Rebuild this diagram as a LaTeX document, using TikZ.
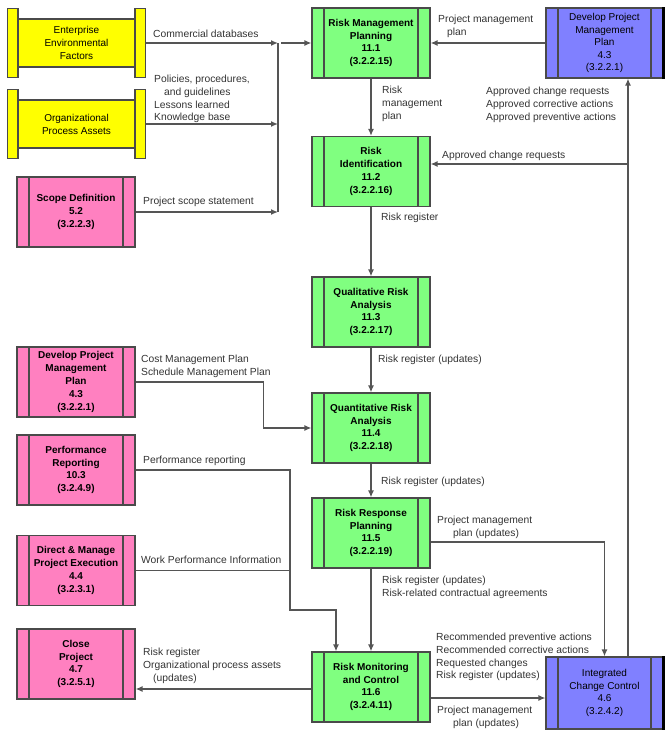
\documentclass[tikz,border=0pt]{standalone}
\usepackage{fontspec}
\setmainfont{Liberation Sans}
\usetikzlibrary{arrows.meta}

\definecolor{procgreen}{HTML}{80FF80}
\definecolor{extpink}{HTML}{FF80C0}
\definecolor{intblue}{HTML}{8080FF}
\definecolor{envyellow}{HTML}{FFFF00}
\definecolor{edgegray}{HTML}{4A4A4A}
\definecolor{flowgray}{HTML}{555555}
\definecolor{labelgray}{HTML}{333333}

\begin{document}
\begin{tikzpicture}[
  x=1pt, y=-1pt,
  barbox/.style={draw=edgegray, line width=1.2pt, minimum width=118pt,
    minimum height=70pt, inner sep=1pt, align=center,
    font=\fontsize{10}{12.8}\selectfont\bfseries,
    path picture={
      \draw[edgegray, line width=1.2pt]
        ([xshift=12pt]path picture bounding box.north west) -- ([xshift=12pt]path picture bounding box.south west)
        ([xshift=-12pt]path picture bounding box.north east) -- ([xshift=-12pt]path picture bounding box.south east);
    }},
  process/.style={barbox, fill=procgreen},
  outside/.style={barbox, fill=extpink},
  integ/.style={barbox, fill=intblue, minimum width=117pt,
    font=\fontsize{10}{12.5}\selectfont,
    append after command={(\tikzlastnode.north east) edge[draw=black, line width=2.4pt] (\tikzlastnode.south east)}},
  scroll/.style={minimum width=139pt, minimum height=70pt, inner sep=1pt,
    align=center, font=\fontsize{10}{13}\selectfont,
    path picture={
      \filldraw[fill=envyellow, draw=edgegray, line width=1.2pt]
        ([shift={(11pt,-11pt)}]path picture bounding box.north west) rectangle ([shift={(-11pt,11pt)}]path picture bounding box.south east)
        ([shift={(0.6pt,-0.6pt)}]path picture bounding box.north west) rectangle ([shift={(11pt,0.6pt)}]path picture bounding box.south west)
        ([shift={(-11pt,-0.6pt)}]path picture bounding box.north east) rectangle ([shift={(-0.6pt,0.6pt)}]path picture bounding box.south east);
    }},
  flow/.style={draw=flowgray, line width=1.3pt},
  arr/.style={flow, -{Latex[length=7pt,width=6pt]}},
  lbl/.style={anchor=north west, inner sep=0pt, align=left, text=labelgray,
    font=\fontsize{10.3}{12.7}\selectfont}
]
\useasboundingbox (0,0) rectangle (670,737);

% inputs on the left
\node[scroll] (eef) at (76.5,43) {Enterprise\\Environmental\\Factors};
\node[scroll] (opa) at (76.5,124) {Organizational\\Process Assets};
\node[outside] (scope) at (76,212) {Scope Definition\\5.2\\(3.2.2.3)};
\node[outside] (dpmp) at (76,382) {Develop Project\\Management\\Plan\\4.3\\(3.2.2.1)};
\node[outside] (perf) at (76,470) {Performance\\Reporting\\10.3\\(3.2.4.9)};
\node[outside] (dmpe) at (76,570.5) {Direct \& Manage\\Project Execution\\4.4\\(3.2.3.1)};
\node[outside] (close) at (76,664) {Close\\Project\\4.7\\(3.2.5.1)};

% risk processes
\node[process] (rmp) at (371,43) {Risk Management\\Planning\\11.1\\(3.2.2.15)};
\node[process] (rid) at (371,171.5) {Risk\\Identification\\11.2\\(3.2.2.16)};
\node[process] (qual) at (371,312) {Qualitative Risk\\Analysis\\11.3\\(3.2.2.17)};
\node[process] (quant) at (371,428) {Quantitative Risk\\Analysis\\11.4\\(3.2.2.18)};
\node[process] (rrp) at (371,533) {Risk Response\\Planning\\11.5\\(3.2.2.19)};
\node[process] (rmc) at (371,687) {Risk Monitoring\\and Control\\11.6\\(3.2.4.11)};

% integration
\node[integ] (pmp) at (604.5,43) {Develop Project\\Management\\Plan\\4.3\\(3.2.2.1)};
\node[integ, minimum height=72pt] (icc) at (604.5,693) {Integrated\\Change Control\\4.6\\(3.2.4.2)};

% connectors
\coordinate (merge) at (278,43);
\draw[arr] (eef.east) -- (merge);
\draw[arr] (opa.east) -- (opa.east -| merge);
\draw[arr] (scope.east) -- (scope.east -| merge);
\draw[flow] (merge) -- (merge |- scope.east);
\draw[arr] ([xshift=3pt]merge) -- (rmp.west);
\draw[arr] (pmp.west) -- (rmp.east);
\draw[arr] (rmp) -- (rid);
\draw[arr] (rid) -- (qual);
\draw[arr] (qual) -- (quant);
\draw[arr] (quant) -- (rrp);
\draw[arr] (rrp) -- (rmc);
\coordinate (feedback) at ([xshift=23.5pt]icc.north);
\draw[arr] (feedback) -- (feedback |- pmp.south);
\coordinate (acr) at (628,164);
\draw[arr] (acr) -- (acr -| rid.east);
\draw[arr] ([yshift=-9pt]rrp.east) -| (icc.north);
\draw[arr] ([yshift=-11pt]rmc.east) -- ([yshift=-11pt]rmc.east -| icc.west);
\draw[arr] ([yshift=-2pt]rmc.west) -- ([yshift=-2pt]rmc.west -| close.east);
\draw[arr] (dpmp.east) -- ++(128,0) |- (quant.west);
\coordinate (join) at (290,610);
\draw[arr] (perf.east) -| (join) -| ([xshift=-35pt]rmc.north);
\draw[flow] (dmpe.east) -- (dmpe.east -| join);

% labels
\node[lbl] (l1) at (153,30) {Commercial databases};
\node[lbl] (l2) at (154,75) {Policies, procedures,\\\hspace{10pt}and guidelines\\Lessons learned\\Knowledge base};
\node[lbl] (l3) at (143,197) {Project scope statement};
\node[lbl] (l4) at (438,15) {Project management\\\hspace{9pt}plan};
\node[lbl] (l5) at (382,86) {Risk\\management\\plan};
\node[lbl] (l6) at (486,87) {Approved change requests\\Approved corrective actions\\Approved preventive actions};
\node[lbl] (l7) at (442,151) {Approved change requests};
\node[lbl] (l8) at (381,213) {Risk register};
\node[lbl] (l9) at (378,355) {Risk register (updates)};
\node[lbl] (l10) at (141,355) {Cost Management Plan\\Schedule Management Plan};
\node[lbl] (l11) at (143,456) {Performance reporting};
\node[lbl] (l12) at (381,477) {Risk register (updates)};
\node[lbl] (l13) at (437,516) {Project management\\\hspace{16pt}plan (updates)};
\node[lbl] (l14) at (141,556) {Work Performance Information};
\node[lbl] (l15) at (382,576) {Risk register (updates)\\Risk-related contractual agreements};
\node[lbl] (l16) at (436,633) {Recommended preventive actions\\Recommended corrective actions\\Requested changes\\Risk register (updates)};
\node[lbl] (l17) at (143,648) {Risk register\\Organizational process assets\\\hspace{10pt}(updates)};
\node[lbl] (l18) at (437,706) {Project management\\\hspace{16pt}plan (updates)};
\end{tikzpicture}
\end{document}
